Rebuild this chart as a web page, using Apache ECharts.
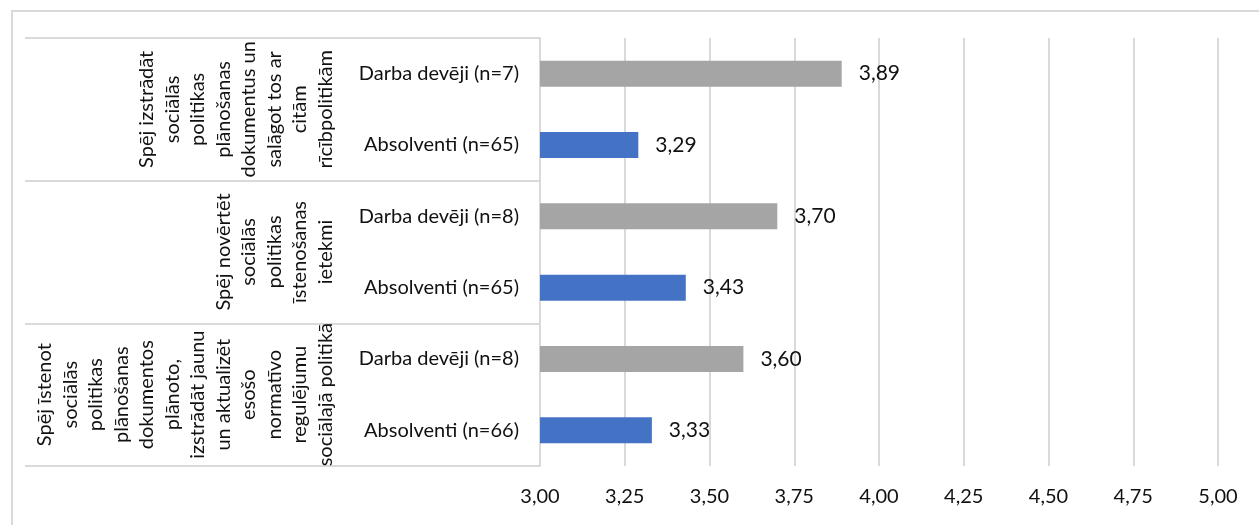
<!DOCTYPE html>
<html>
<head>
<meta charset="utf-8">
<script src="https://cdn.jsdelivr.net/npm/echarts@6/dist/echarts.min.js"></script>
<style>
    html, body {
        margin: 0;
        padding: 0;
        background: #fff;
    }
    .frame {
        position: absolute;
        left: 11px;
        top: 10px;
        width: 1300px;
        height: 600px;
        border-left: 2px solid #D9D9D9;
        border-top: 2px solid #D9D9D9;
    }
    #chart {
        position: absolute;
        left: 0;
        top: 0;
        width: 1259px;
        height: 525px;
    }
</style>
</head>
<body>
<div class="frame"></div>
<div id="chart"></div>
<script>
// groups (rotated labels on the left), top to bottom
let groupNames = [
    "Spēj izstrādāt\nsociālās\npolitikas\nplānošanas\ndokumentus un\nsalāgot tos ar\ncitām\nrīcībpolitikām",
    "Spēj novērtēt\nsociālās\npolitikas\nīstenošanas\nietekmi",
    "Spēj īstenot\nsociālās\npolitikas\nplānošanas\ndokumentos\nplānoto,\nizstrādāt jaunu\nun aktualizēt\nesošo\nnormatīvo\nregulējumu\nsociālajā politikā",
];
// respondent rows, top to bottom
let rowLabels = [
    "Darba devēji (n=7)", "Absolventi (n=65)",
    "Darba devēji (n=8)", "Absolventi (n=65)",
    "Darba devēji (n=8)", "Absolventi (n=66)",
];
let rowTypes = ["employer", "graduate", "employer", "graduate", "employer", "graduate"];
let values = [3.89, 3.29, 3.70, 3.43, 3.60, 3.33];
let xTicks = [3.00, 3.25, 3.50, 3.75, 4.00, 4.25, 4.50, 4.75, 5.00];

let typeColors = {employer: "#A5A5A5", graduate: "#4472C4"};
let font = "Lato, 'Noto Sans', sans-serif";
let lineColor = "#D9D9D9";
let fmt = v => Number(v).toFixed(2).replace(".", ",");

let chart = echarts.init(document.getElementById("chart"));
chart.setOption({
    animation: false,
    textStyle: {fontFamily: font},
    grid: {
        left: 540,
        right: 41,
        top: 38,
        bottom: 59,
    },
    xAxis: {
        type: "value",
        min: xTicks[0],
        max: xTicks[xTicks.length - 1],
        interval: 0.25,
        axisLine: {show: false},
        axisTick: {show: false},
        splitLine: {
            show: true,
            lineStyle: {color: lineColor, width: 2},
        },
        axisLabel: {
            color: "#111",
            fontSize: 20,
            margin: 21,
            formatter: v => fmt(v),
        },
    },
    yAxis: [
        {
            type: "category",
            position: "left",
            inverse: true,
            data: rowLabels.map((e, i) => String(i)),
            axisLine: {
                show: true,
                lineStyle: {color: lineColor, width: 2},
            },
            axisTick: {show: false},
            axisLabel: {
                interval: 0,
                color: "#111",
                fontSize: 20,
                margin: 21,
                formatter: (v, i) => rowLabels[i],
            },
        },
        {
            type: "category",
            position: "left",
            inverse: true,
            offset: 0,
            data: groupNames,
            axisLine: {show: false},
            axisTick: {
                show: true,
                interval: 0,
                length: 515,
                lineStyle: {color: lineColor, width: 2},
            },
            axisLabel: {
                interval: 0,
                hideOverlap: false,
                rotate: 90,
                color: "#111",
                fontSize: 20,
                lineHeight: 25.5,
                margin: 202,
                align: "center",
            },
        },
    ],
    series: [
        {
            type: "bar",
            yAxisIndex: 0,
            barWidth: 26,
            data: values.map((v, i) => ({
                value: v,
                itemStyle: {color: typeColors[rowTypes[i]]},
            })),
            label: {
                show: true,
                position: "right",
                distance: 17,
                color: "#111",
                fontSize: 21,
                formatter: p => fmt(p.value),
            },
        },
    ],
});
</script>
</body>
</html>
